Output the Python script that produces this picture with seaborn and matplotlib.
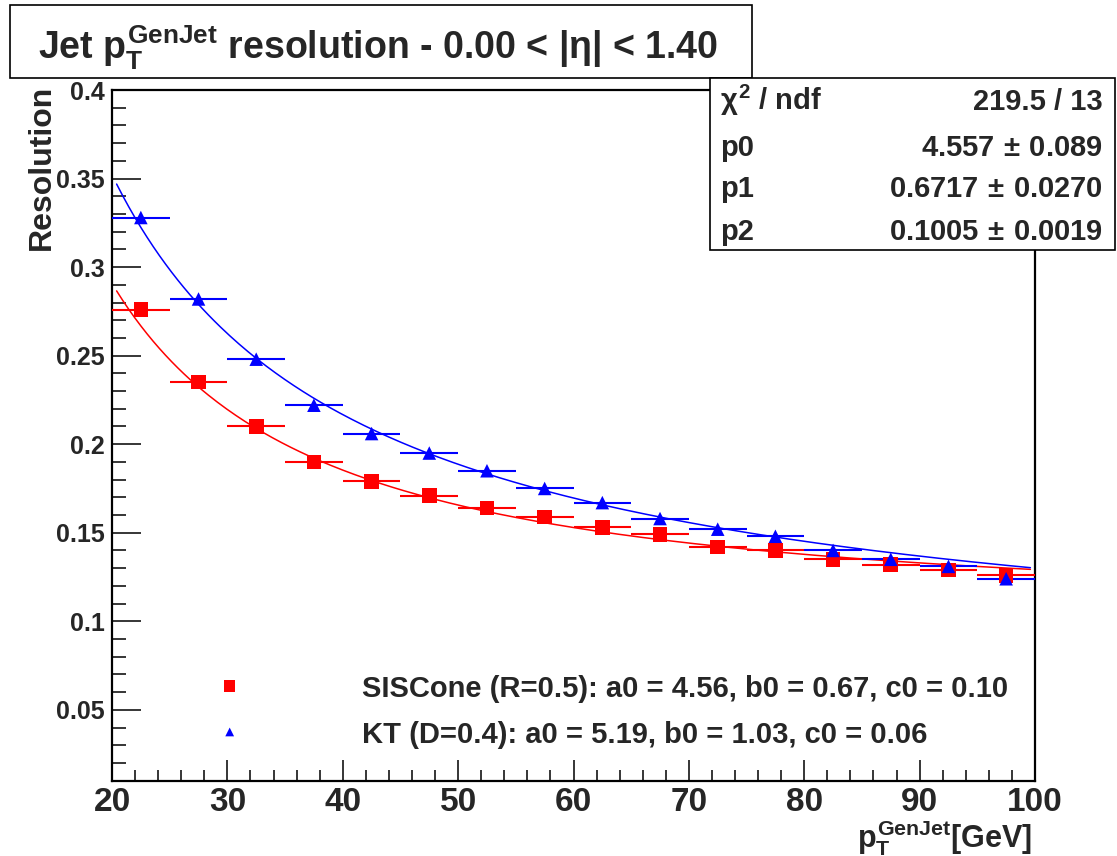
import numpy as np
import pandas as pd
import matplotlib
matplotlib.use("Agg")
import matplotlib.pyplot as plt
from matplotlib import font_manager
from matplotlib.patches import Rectangle
from matplotlib.ticker import MultipleLocator
import seaborn as sns

# ---------------- data ----------------
pt_centers = [22.5, 27.5, 32.5, 37.5, 42.5, 47.5, 52.5, 57.5,
              62.5, 67.5, 72.5, 77.5, 82.5, 87.5, 92.5, 97.5]
pt_halfwidth = [2.5] * 16
res_siscone = [0.276, 0.235, 0.210, 0.190, 0.179, 0.171, 0.164, 0.159,
               0.153, 0.149, 0.142, 0.140, 0.135, 0.132, 0.129, 0.126]
res_kt = [0.328, 0.282, 0.248, 0.222, 0.206, 0.195, 0.185, 0.175,
          0.167, 0.158, 0.152, 0.148, 0.140, 0.135, 0.131, 0.124]
# fit parameters (a0, b0, c0) as printed on the chart
fit_siscone = [4.557, 0.6717, 0.1005]
fit_kt = [5.19, 1.03, 0.06]
fit_range = [20.4, 99.6]
legend_labels = ["SISCone (R=0.5): a0 = 4.56, b0 = 0.67, c0 = 0.10",
                 "KT (D=0.4): a0 = 5.19, b0 = 1.03, c0 = 0.06"]
stats_rows = [(r"$\chi^{2}$ / ndf", "219.5 / 13"),
              ("p0", r"4.557$\,\pm\,$0.089"),
              ("p1", r"0.6717$\,\pm\,$0.0270"),
              ("p2", r"0.1005$\,\pm\,$0.0019")]
x_ticks = [20, 30, 40, 50, 60, 70, 80, 90, 100]
y_ticks = [0.05, 0.1, 0.15, 0.2, 0.25, 0.3, 0.35, 0.4]
y_ticklabels = ["0.05", "0.1", "0.15", "0.2", "0.25", "0.3", "0.35", "0.4"]

# ---------------- style ----------------
sns.set_theme(style="white")
avail = {f.name for f in font_manager.fontManager.ttflist}
BASE = "Liberation Sans" if "Liberation Sans" in avail else "DejaVu Sans"
plt.rcParams["font.family"] = [BASE, "DejaVu Sans"]
plt.rcParams["font.weight"] = "bold"
plt.rcParams["mathtext.fontset"] = "custom"
plt.rcParams["mathtext.rm"] = f"{BASE}:bold"
plt.rcParams["mathtext.it"] = f"{BASE}:bold"
plt.rcParams["mathtext.bf"] = f"{BASE}:bold"

W, H = 1117, 856
fig = plt.figure(figsize=(W / 100, H / 100), dpi=100)
fig.patch.set_facecolor("white")

def fx(px):
    return px / W

def fy(py):
    return 1 - py / H

ax = fig.add_axes([fx(112), fy(781), fx(1035) - fx(112), fy(90) - fy(781)])
ax.set_facecolor("white")

RED = "#ff0000"
BLUE = "#0000ff"

df = pd.DataFrame({
    "pt": pt_centers * 2,
    "xerr": pt_halfwidth * 2,
    "res": res_siscone + res_kt,
    "algo": ["SISCone"] * 16 + ["KT"] * 16,
})

# fit curves from the printed fit parameters
def reso(x, p):
    return np.sqrt((p[0] / x) ** 2 + p[1] ** 2 / x + p[2] ** 2)

xx = np.linspace(fit_range[0], fit_range[1], 300)
curves = pd.DataFrame({
    "pt": np.concatenate([xx, xx]),
    "res": np.concatenate([reso(xx, fit_siscone), reso(xx, fit_kt)]),
    "algo": ["SISCone"] * len(xx) + ["KT"] * len(xx),
})
sns.lineplot(data=curves, x="pt", y="res", hue="algo",
             palette={"SISCone": RED, "KT": BLUE}, lw=1.1, ax=ax,
             legend=False, zorder=2)

# horizontal error bars (bin widths)
for algo, col in [("SISCone", RED), ("KT", BLUE)]:
    d = df[df.algo == algo]
    ax.errorbar(d.pt, d.res, xerr=d.xerr, fmt="none", ecolor=col,
                elinewidth=1.5, capsize=0, zorder=3)

sns.scatterplot(data=df[df.algo == "SISCone"], x="pt", y="res", color=RED,
                marker="s", s=110, edgecolor="none", ax=ax, legend=False,
                zorder=4)
sns.scatterplot(data=df[df.algo == "KT"], x="pt", y="res", color=BLUE,
                marker="^", s=95, edgecolor="none", ax=ax, legend=False,
                zorder=4)

ax.set_xlim(20, 100)
ax.set_ylim(0.0098, 0.4)
ax.set_xlabel("")
ax.set_ylabel("")

ax.xaxis.set_minor_locator(MultipleLocator(2))
ax.yaxis.set_minor_locator(MultipleLocator(0.01))
ax.set_xticks(x_ticks)
ax.set_xticklabels([str(t) for t in x_ticks])
ax.set_yticks(y_ticks)
ax.set_yticklabels(y_ticklabels)
ax.tick_params(axis="x", which="major", direction="in", length=15, width=1.3,
               bottom=True, top=False, pad=4, labelsize=24)
ax.tick_params(axis="x", which="minor", direction="in", length=8, width=1.3,
               bottom=True, top=False)
ax.tick_params(axis="y", which="major", direction="in", length=21, width=1.3,
               left=True, right=False, pad=5, labelsize=18)
ax.tick_params(axis="y", which="minor", direction="in", length=10, width=1.3,
               left=True, right=False)
for lab in ax.get_xticklabels() + ax.get_yticklabels():
    lab.set_fontweight("bold")
for sp in ax.spines.values():
    sp.set_visible(True)
    sp.set_color("black")
    sp.set_linewidth(1.6)

# y label
fig.text(fx(42), fy(85), "Resolution", rotation=90, ha="center", va="top",
         fontsize=23, fontweight="bold")
# x label
fig.text(fx(1032), fy(847), r"$p_{T}^{GenJet}$[GeV]", ha="right",
         va="baseline", fontsize=22, fontweight="bold")

# title box
fig.patches.append(Rectangle((fx(10), fy(78)), fx(752) - fx(10), fy(5) - fy(78),
                             transform=fig.transFigure, facecolor="white",
                             edgecolor="black", lw=1.2, zorder=5))
fig.text(fx(378), fy(59), r"Jet $p_{T}^{GenJet}$ resolution - 0.00 < |η| < 1.40",
         ha="center", va="baseline", fontsize=27, fontweight="bold", zorder=6)

# stats box
fig.patches.append(Rectangle((fx(710), fy(250)), fx(1115) - fx(710), fy(78) - fy(250),
                             transform=fig.transFigure, facecolor="white",
                             edgecolor="black", lw=1.2, zorder=5))
ys = [110, 156, 197, 240]
for (lt, rt), yy in zip(stats_rows, ys):
    fig.text(fx(720), fy(yy), lt, ha="left", va="baseline", fontsize=21,
             fontweight="bold", zorder=6)
    fig.text(fx(1103), fy(yy), rt, ha="right", va="baseline", fontsize=21,
             fontweight="bold", zorder=6)

# legend (manual, ROOT-like)
ax.scatter([30.2], [0.0635], marker="s", s=70, color=RED, edgecolor="none")
ax.scatter([30.2], [0.0375], marker="^", s=40, color=BLUE, edgecolor="none")
fig.text(fx(362), fy(697), legend_labels[0], ha="left", va="baseline",
         fontsize=21, fontweight="bold")
fig.text(fx(362), fy(743), legend_labels[1], ha="left", va="baseline",
         fontsize=21, fontweight="bold")

fig.savefig("out.png", dpi=100, facecolor="white")
